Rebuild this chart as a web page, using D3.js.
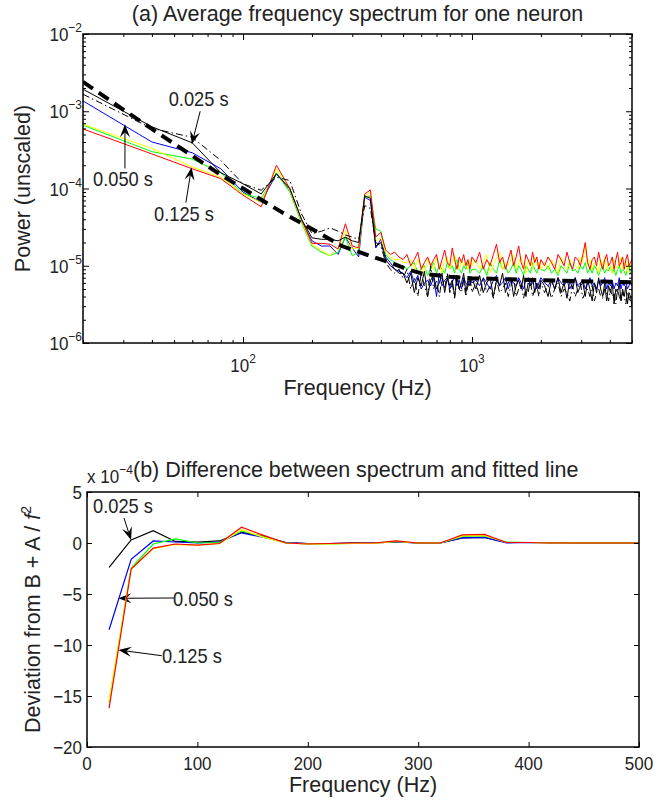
<!DOCTYPE html>
<html>
<head>
<meta charset="utf-8">
<script src="https://cdn.jsdelivr.net/npm/d3@7"></script>
<style>
body { margin: 0; background: #fff; }
svg text { font-family: "Liberation Sans", Arial, Helvetica, sans-serif; fill: #222; }
</style>
</head>
<body>
<svg width="667" height="802"></svg>
<script>
// ---- data, panel (a): power spectra, values in units of 1e-6 ----
var freqLow = [20, 40, 60, 80, 100, 120, 140, 160, 180, 200, 220, 240, 260, 280, 300,
    320, 340, 360, 380, 400, 420, 440, 460, 480, 500];
var freqHigh = [520, 540, 560, 580, 600, 620, 640, 660, 680, 700, 720, 740, 760, 780, 800, 820, 840, 860, 880, 900, 920, 940, 960, 980, 1000,
    1040, 1080, 1120, 1160, 1200, 1240, 1280, 1320, 1360, 1400, 1440, 1480, 1520, 1560, 1600, 1640, 1680, 1720, 1760, 1800, 1840, 1880, 1920, 1960, 2000,
    2075, 2150, 2225, 2300, 2375, 2450, 2525, 2600, 2675, 2750, 2825, 2900, 2975, 3050, 3125, 3200, 3275, 3350, 3425, 3500,
    3575, 3650, 3725, 3800, 3875, 3950, 4025, 4100, 4175, 4250, 4325, 4400, 4475, 4550, 4625, 4700, 4775, 4850, 4925, 5000];

var powerDashDot = [1660, 600, 460, 230, 115, 95, 140, 127, 47, 26, 28, 31, 28, 25, 23.5, 22, 60, 55, 20, 18, 11, 9, 8, 9, 7,
    9, 5, 7, 4, 8, 5.5, 4, 10, 5, 6.5, 4, 7, 5, 8, 4.5, 6, 3.8, 7, 5, 4.5, 6.5, 4, 5.5, 7, 4.5,
    6, 4, 7, 4.5, 5.5, 3.8, 6.5, 4.5, 5, 6, 4, 5.5, 7, 4, 5, 6, 3.8, 5, 4.5, 6.5, 4, 5, 5.5, 4, 6,
    4.5, 5.5, 3.8, 5, 6, 4, 5, 4.5, 3.5, 5.5, 4, 5, 6, 3.8, 4.5, 5, 4, 5.5, 3.5, 4.5,
    5, 4, 3.8, 5, 4.5, 3.5, 5, 4, 4.5, 3.2, 5, 4, 3.5, 4.5, 4, 3.2, 4.5, 3.8, 3.5, 4];
var power025 = [1930, 630, 390, 160, 115, 85, 155, 100, 40, 23, 22, 22, 21, 23.5, 21, 20, 80, 75, 18, 20, 12, 10, 9, 8, 8,
    6, 8, 4.5, 7, 5.5, 8.5, 4, 6.5, 7.5, 5, 6, 8, 4.5, 7, 5.5, 6.5, 4, 7.5, 5, 6, 8, 4.5, 6.5, 5.5, 7,
    5, 7.5, 4.5, 6, 7, 4, 6.5, 5.5, 8, 4.5, 6, 7, 4, 5.5, 6.5, 5, 7.5, 4, 6, 5.5, 7, 4.5, 6, 5, 6.5,
    5.5, 4, 6.5, 5, 7, 4.5, 6, 3.8, 6.5, 5, 7, 4.5, 5.5, 6, 4, 6.5, 5, 3.5, 6, 4.5,
    7, 5, 4, 6, 3.5, 5.5, 4.5, 6, 3.2, 5, 4.5, 6, 3.5, 5, 4, 5.5, 3.2, 4.5, 4, 3];
var power050 = [1360, 400, 290, 180, 90, 66, 155, 95, 38, 21, 18, 18, 14, 23.5, 17, 13, 77, 70, 17, 22, 13, 11, 9, 8.5, 8,
    7, 8.5, 6, 7.5, 5, 6, 6.5, 5.5, 7, 4, 8, 5.5, 6.5, 7, 5, 6, 7.5, 5.5, 6.5, 5, 7, 6, 5.5, 6.5, 6,
    6.5, 5.5, 7, 6, 5, 6.5, 7.5, 5.5, 6, 7, 5, 6.5, 6, 5.5, 7, 6, 5, 6.5, 7, 5.5, 6, 6.5, 5, 6, 7,
    6, 5.5, 6.5, 5, 7, 6, 5.5, 6.5, 5, 6, 7, 5.5, 6, 6.5, 5, 6, 7, 5.5, 6, 5,
    6.5, 5.5, 6, 7, 5, 6, 5.5, 6.5, 5, 6, 5.5, 7, 5, 6, 5.5, 6.5, 5, 5.5, 6, 5.5];
var power075 = [660, 300, 240, 160, 86, 74, 160, 90, 36, 18, 15, 13.5, 15, 23.5, 13.5, 15, 77, 80, 30, 28, 14, 12, 11, 10, 10,
    9, 10, 11, 8, 9, 10, 7.5, 9, 11, 8, 10, 9, 8, 11, 9, 10, 8, 12, 9, 8, 10, 9, 11, 8, 9,
    9, 8, 10, 7.5, 11, 9, 8, 12, 9, 10, 8, 9, 11, 8, 10, 9, 7.5, 10, 9, 8, 11, 9, 8, 10, 9,
    8.5, 10, 8, 9, 7.5, 10, 9, 8, 11, 8.5, 9, 8, 10, 9, 11, 8, 9.5, 8, 10, 9,
    7.5, 9, 10, 8, 9, 8.5, 10, 8, 9, 7.5, 9, 10, 8, 9, 8.5, 7.5, 9, 10, 8, 8.5];
var power100 = [680, 330, 190, 140, 85, 66, 180, 95, 38, 19, 15.7, 13.5, 17, 28.5, 16.5, 17, 80, 90, 21, 23, 15, 13, 12, 12, 11,
    11, 12, 9, 12, 10, 8, 12, 11, 9, 13, 10, 8, 12, 13, 9, 11, 14, 10, 9, 12, 10, 11, 9, 12, 10,
    12, 9, 11, 14, 8, 10, 13, 15, 9, 11, 10, 12, 14, 9, 11, 13, 10, 8, 12, 11, 9, 13, 10, 11, 9,
    11, 9, 12, 10, 8, 13, 10, 9, 12, 11, 10, 9, 13, 11, 19, 10, 12, 9, 11, 10,
    8, 12, 10, 13, 9, 11, 10, 8, 12, 10, 9, 11, 13, 9, 10, 12, 8, 11, 10, 9];
var power125 = [590, 280, 180, 134, 82, 58, 200, 100, 40, 19.5, 19.5, 19, 16.5, 35, 18, 17, 85, 96, 23.5, 27, 16, 14, 15, 13, 12,
    14, 10, 12, 15, 9, 11, 13, 10, 12, 14, 9, 12, 16, 11, 10, 17, 12, 9, 13, 11, 14, 10, 12, 9, 13,
    11, 15, 9, 12, 10, 14, 19, 11, 13, 9, 12, 16, 10, 13, 18, 11, 9, 14, 12, 10, 15, 11, 13, 9, 12,
    10, 13, 11, 9, 14, 12, 10, 15, 11, 9, 13, 12, 10, 14, 20, 11, 9, 12, 13, 10,
    15, 11, 9, 12, 14, 10, 11, 13, 9, 12, 15, 10, 11, 13, 9, 12, 14, 10, 11, 12];

// fitted line B + A / f^2
var fitFreq = [20, 30, 40, 60, 80, 100, 150, 200, 270, 370, 440, 520, 610, 800, 1000, 2000, 5000];
var fitPower = [2400, 1050, 590, 265, 150, 100, 48, 30, 18, 13, 11, 9, 7.9, 7.2, 6.9, 6.5, 6.1];

// ---- data, panel (b): deviation from fit, units of 1e-4 ----
var devFreq = [20, 40, 60, 80, 100, 120, 140, 160, 180, 200, 220, 240, 260, 280, 300,
    320, 340, 360, 380, 400, 420, 440, 460, 480, 500];
var dev025 = [-2.4, 0.3, 1.2, 0.15, 0.1, 0.2, 1.05, 0.65, 0.05, -0.05, -0.05, 0, 0, 0.1, 0, 0, 0.5, 0.55, 0.05, 0.05, 0.05, 0, 0, 0, 0];
var dev050 = [-8.5, -1.6, 0.2, 0.1, 0, 0.1, 1.0, 0.55, 0.05, -0.05, -0.05, 0, 0, 0.1, 0, 0, 0.5, 0.55, 0, 0.05, 0, 0, 0, 0, 0];
var dev075 = [-15.6, -2.45, -0.1, 0.4, 0, 0.05, 1.2, 0.6, 0, -0.1, -0.1, -0.05, 0, 0.15, 0, 0, 0.65, 0.7, 0.1, 0.05, 0, 0, 0, 0, 0];
var dev100 = [-15.5, -2.5, -0.55, -0.15, -0.2, -0.05, 1.3, 0.55, 0, -0.1, -0.1, -0.05, -0.05, 0.15, 0, 0, 0.7, 0.75, 0.05, 0.05, 0, 0, 0, 0, 0];
var dev125 = [-16.2, -2.55, -0.5, -0.1, -0.2, -0.05, 1.55, 0.75, 0, -0.1, -0.05, 0, 0, 0.2, 0, 0, 0.8, 0.85, 0.05, 0.05, 0, 0, 0, 0, 0];

var yExpTicks = [-2, -3, -4, -5, -6];
var xExpTicks = [2, 3];
var devXTicks = [0, 100, 200, 300, 400, 500];
var devYTicks = [5, 0, -5, -10, -15, -20];

var svg = d3.select('svg');
var minus = '\u2212';

// text helper: glyphs in the original are a little narrow, so allow a horizontal squeeze
function addText(x, y, size, sx, anchor) {
    return svg.append('text')
        .attr('transform', 'translate(' + x + ',' + y + ') scale(' + sx + ',1)')
        .attr('text-anchor', anchor)
        .attr('font-size', size);
}
function powerLabel(t, base, sup) {
    t.append('tspan').text(base);
    t.append('tspan').attr('font-size', 13).attr('dy', -9).text(sup);
}

// ================= panel (a) =================
var boxA = {l: 83, t: 34, r: 632, b: 343};
var xA = d3.scaleLog().domain([20, 5000]).range([boxA.l, boxA.r]);
var yA = d3.scaleLog().domain([1e-6, 1e-2]).range([boxA.b, boxA.t]);

svg.append('defs').append('clipPath').attr('id', 'clipA')
    .append('rect').attr('x', boxA.l).attr('y', boxA.t)
    .attr('width', boxA.r - boxA.l).attr('height', boxA.b - boxA.t);

var freqAll = freqLow.concat(freqHigh);
var spectra = [
    {values: power050, color: '#0000ff', dash: null},
    {values: power075, color: '#00ff00', dash: null},
    {values: power100, color: '#ffff00', dash: null},
    {values: power125, color: '#ff0000', dash: null},
    {values: powerDashDot, color: '#000', dash: '7,3,1.5,3'},
    {values: power025, color: '#000', dash: null}
];

var lineA = d3.line()
    .x(function(d) { return xA(d[0]); })
    .y(function(d) { return yA(d[1] * 1e-6); });

var plotA = svg.append('g').attr('clip-path', 'url(#clipA)');
spectra.forEach(function(s) {
    plotA.append('path')
        .datum(d3.zip(freqAll, s.values))
        .attr('d', lineA)
        .attr('fill', 'none')
        .attr('stroke', s.color)
        .attr('stroke-width', 1)
        .attr('stroke-dasharray', s.dash);
});
plotA.append('path')
    .datum(d3.zip(fitFreq, fitPower))
    .attr('d', lineA)
    .attr('fill', 'none')
    .attr('stroke', '#000')
    .attr('stroke-width', 4)
    .attr('stroke-dasharray', '12,7');

// ticks, MATLAB style (inward on all four sides)
function isMajor(list, v) {
    return list.indexOf(Math.round(Math.log10(v) * 1000) / 1000) >= 0;
}
var xMinor = xA.ticks().filter(function(v) { return !isMajor(xExpTicks, v); });
var yMinor = yA.ticks().filter(function(v) { return !isMajor(yExpTicks, v); });
var xMajor = xExpTicks.map(function(e) { return Math.pow(10, e); });
var yMajor = yExpTicks.map(function(e) { return Math.pow(10, e); });

function tickGroup(axis, tx, ty) {
    var g = svg.append('g').attr('transform', 'translate(' + tx + ',' + ty + ')').call(axis);
    g.select('.domain').remove();
    g.selectAll('.tick line').attr('stroke', '#000');
    return g;
}
tickGroup(d3.axisBottom(xA).tickValues(xMinor).tickSize(-3).tickFormat(''), 0, boxA.b);
tickGroup(d3.axisBottom(xA).tickValues(xMajor).tickSize(-6).tickFormat(''), 0, boxA.b);
tickGroup(d3.axisTop(xA).tickValues(xMinor).tickSize(-3).tickFormat(''), 0, boxA.t);
tickGroup(d3.axisTop(xA).tickValues(xMajor).tickSize(-6).tickFormat(''), 0, boxA.t);
tickGroup(d3.axisLeft(yA).tickValues(yMinor).tickSize(-3).tickFormat(''), boxA.l, 0);
tickGroup(d3.axisLeft(yA).tickValues(yMajor).tickSize(-6).tickFormat(''), boxA.l, 0);
tickGroup(d3.axisRight(yA).tickValues(yMinor).tickSize(-3).tickFormat(''), boxA.r, 0);
tickGroup(d3.axisRight(yA).tickValues(yMajor).tickSize(-6).tickFormat(''), boxA.r, 0);

svg.append('rect').attr('x', boxA.l).attr('y', boxA.t)
    .attr('width', boxA.r - boxA.l).attr('height', boxA.b - boxA.t)
    .attr('fill', 'none').attr('stroke', '#000').attr('stroke-width', 1.5);

yExpTicks.forEach(function(e) {
    powerLabel(addText(boxA.l - 1, yA(Math.pow(10, e)) + 7, 18.5, 0.92, 'end'), '10', minus + (-e));
});
xExpTicks.forEach(function(e) {
    powerLabel(addText(xA(Math.pow(10, e)), boxA.b + 29, 18.5, 0.92, 'middle'), '10', String(e));
});

addText((boxA.l + boxA.r) / 2, 21, 21.5, 1, 'middle')
    .text('(a) Average frequency spectrum for one neuron');
addText((boxA.l + boxA.r) / 2, 395, 21.5, 1, 'middle')
    .text('Frequency (Hz)');
svg.append('text')
    .attr('transform', 'translate(30,' + (boxA.t + boxA.b) / 2 + ') rotate(-90)')
    .attr('text-anchor', 'middle')
    .attr('font-size', 21.5)
    .text('Power (unscaled)');

// arrows with a notched, filled head
function drawArrow(g, p0, p1) {
    var ang = Math.atan2(p1[1] - p0[1], p1[0] - p0[0]);
    var ca = Math.cos(ang), sa = Math.sin(ang);
    function pt(along, across) {
        return [p1[0] - along * ca - across * sa, p1[1] - along * sa + across * ca];
    }
    g.append('line')
        .attr('x1', p0[0]).attr('y1', p0[1])
        .attr('x2', pt(8, 0)[0]).attr('y2', pt(8, 0)[1])
        .attr('stroke', '#000').attr('stroke-width', 1);
    g.append('path')
        .attr('d', 'M' + [p1, pt(13, 5), pt(8, 0), pt(13, -5)].join('L') + 'Z')
        .attr('fill', '#000');
}

var notesA = [
    {label: '0.025 s', text: [64, 1.16e-3], tail: [65, 1.0e-3], tip: [59.7, 3.73e-4], anchor: 'middle'},
    {label: '0.050 s', text: [29.9, 1.09e-4], tail: [30.5, 1.82e-4], tip: [30.5, 6.78e-4], anchor: 'middle'},
    {label: '0.125 s', text: [55.2, 3.84e-5], tail: [56.3, 6.58e-5], tip: [59.6, 1.89e-4], anchor: 'middle'}
];
var noteG = svg.append('g');
notesA.forEach(function(n) {
    drawArrow(noteG, [xA(n.tail[0]), yA(n.tail[1])], [xA(n.tip[0]), yA(n.tip[1])]);
    addText(xA(n.text[0]), yA(n.text[1]), 21, 0.87, n.anchor).text(n.label);
});

// ================= panel (b) =================
var boxB = {l: 87, t: 492, r: 639, b: 747};
var xB = d3.scaleLinear().domain([0, 500]).range([boxB.l, boxB.r]);
var yB = d3.scaleLinear().domain([-20, 5]).range([boxB.b, boxB.t]);

var devSeries = [
    {values: dev025, color: '#000'},
    {values: dev050, color: '#0000ff'},
    {values: dev075, color: '#00ff00'},
    {values: dev100, color: '#ffff00'},
    {values: dev125, color: '#ff0000'}
];
var lineB = d3.line()
    .x(function(d) { return xB(d[0]); })
    .y(function(d) { return yB(d[1]); });

devSeries.forEach(function(s) {
    svg.append('path')
        .datum(d3.zip(devFreq, s.values))
        .attr('d', lineB)
        .attr('fill', 'none')
        .attr('stroke', s.color)
        .attr('stroke-width', 1.2);
});

tickGroup(d3.axisBottom(xB).tickValues(devXTicks).tickSize(-5).tickFormat(''), 0, boxB.b);
tickGroup(d3.axisTop(xB).tickValues(devXTicks).tickSize(-5).tickFormat(''), 0, boxB.t);
tickGroup(d3.axisLeft(yB).tickValues(devYTicks).tickSize(-5).tickFormat(''), boxB.l, 0);
tickGroup(d3.axisRight(yB).tickValues(devYTicks).tickSize(-5).tickFormat(''), boxB.r, 0);

svg.append('rect').attr('x', boxB.l).attr('y', boxB.t)
    .attr('width', boxB.r - boxB.l).attr('height', boxB.b - boxB.t)
    .attr('fill', 'none').attr('stroke', '#000').attr('stroke-width', 1.5);

devXTicks.forEach(function(v) {
    addText(xB(v), boxB.b + 23, 18.5, 0.92, 'middle').text(v);
});
devYTicks.forEach(function(v) {
    addText(boxB.l - 5, yB(v) + 6.5, 18.5, 0.92, 'end').text(v < 0 ? minus + (-v) : v);
});

powerLabel(addText(boxB.l, 483, 18.5, 0.92, 'start'), 'x 10', minus + '4');

addText(133, 477, 21.5, 1, 'start')
    .text('(b) Difference between spectrum and fitted line');
addText((boxB.l + boxB.r) / 2, 792, 21.5, 1, 'middle')
    .text('Frequency (Hz)');

var yLabB = svg.append('text')
    .attr('transform', 'translate(40,' + (boxB.t + boxB.b) / 2 + ') rotate(-90)')
    .attr('text-anchor', 'middle')
    .attr('font-size', 21.5);
yLabB.append('tspan').text('Deviation from B + A / ');
yLabB.append('tspan').attr('font-style', 'italic').text('f');
yLabB.append('tspan').attr('font-size', 14).attr('dy', -9).text('2');

var notesB = [
    {label: '0.025 s', text: [32.6, 2.94], tail: [33.5, 2.45], tip: [39.9, 0.29], anchor: 'middle'},
    {label: '0.050 s', text: [77.9, -6.18], tail: [78.8, -5.39], tip: [28.4, -5.42], anchor: 'start'},
    {label: '0.125 s', text: [67.9, -11.76], tail: [67.7, -11.05], tip: [28.4, -10.49], anchor: 'start'}
];
notesB.forEach(function(n) {
    drawArrow(noteG, [xB(n.tail[0]), yB(n.tail[1])], [xB(n.tip[0]), yB(n.tip[1])]);
    addText(xB(n.text[0]), yB(n.text[1]), 21, 0.87, n.anchor).text(n.label);
});
</script>
</body>
</html>
